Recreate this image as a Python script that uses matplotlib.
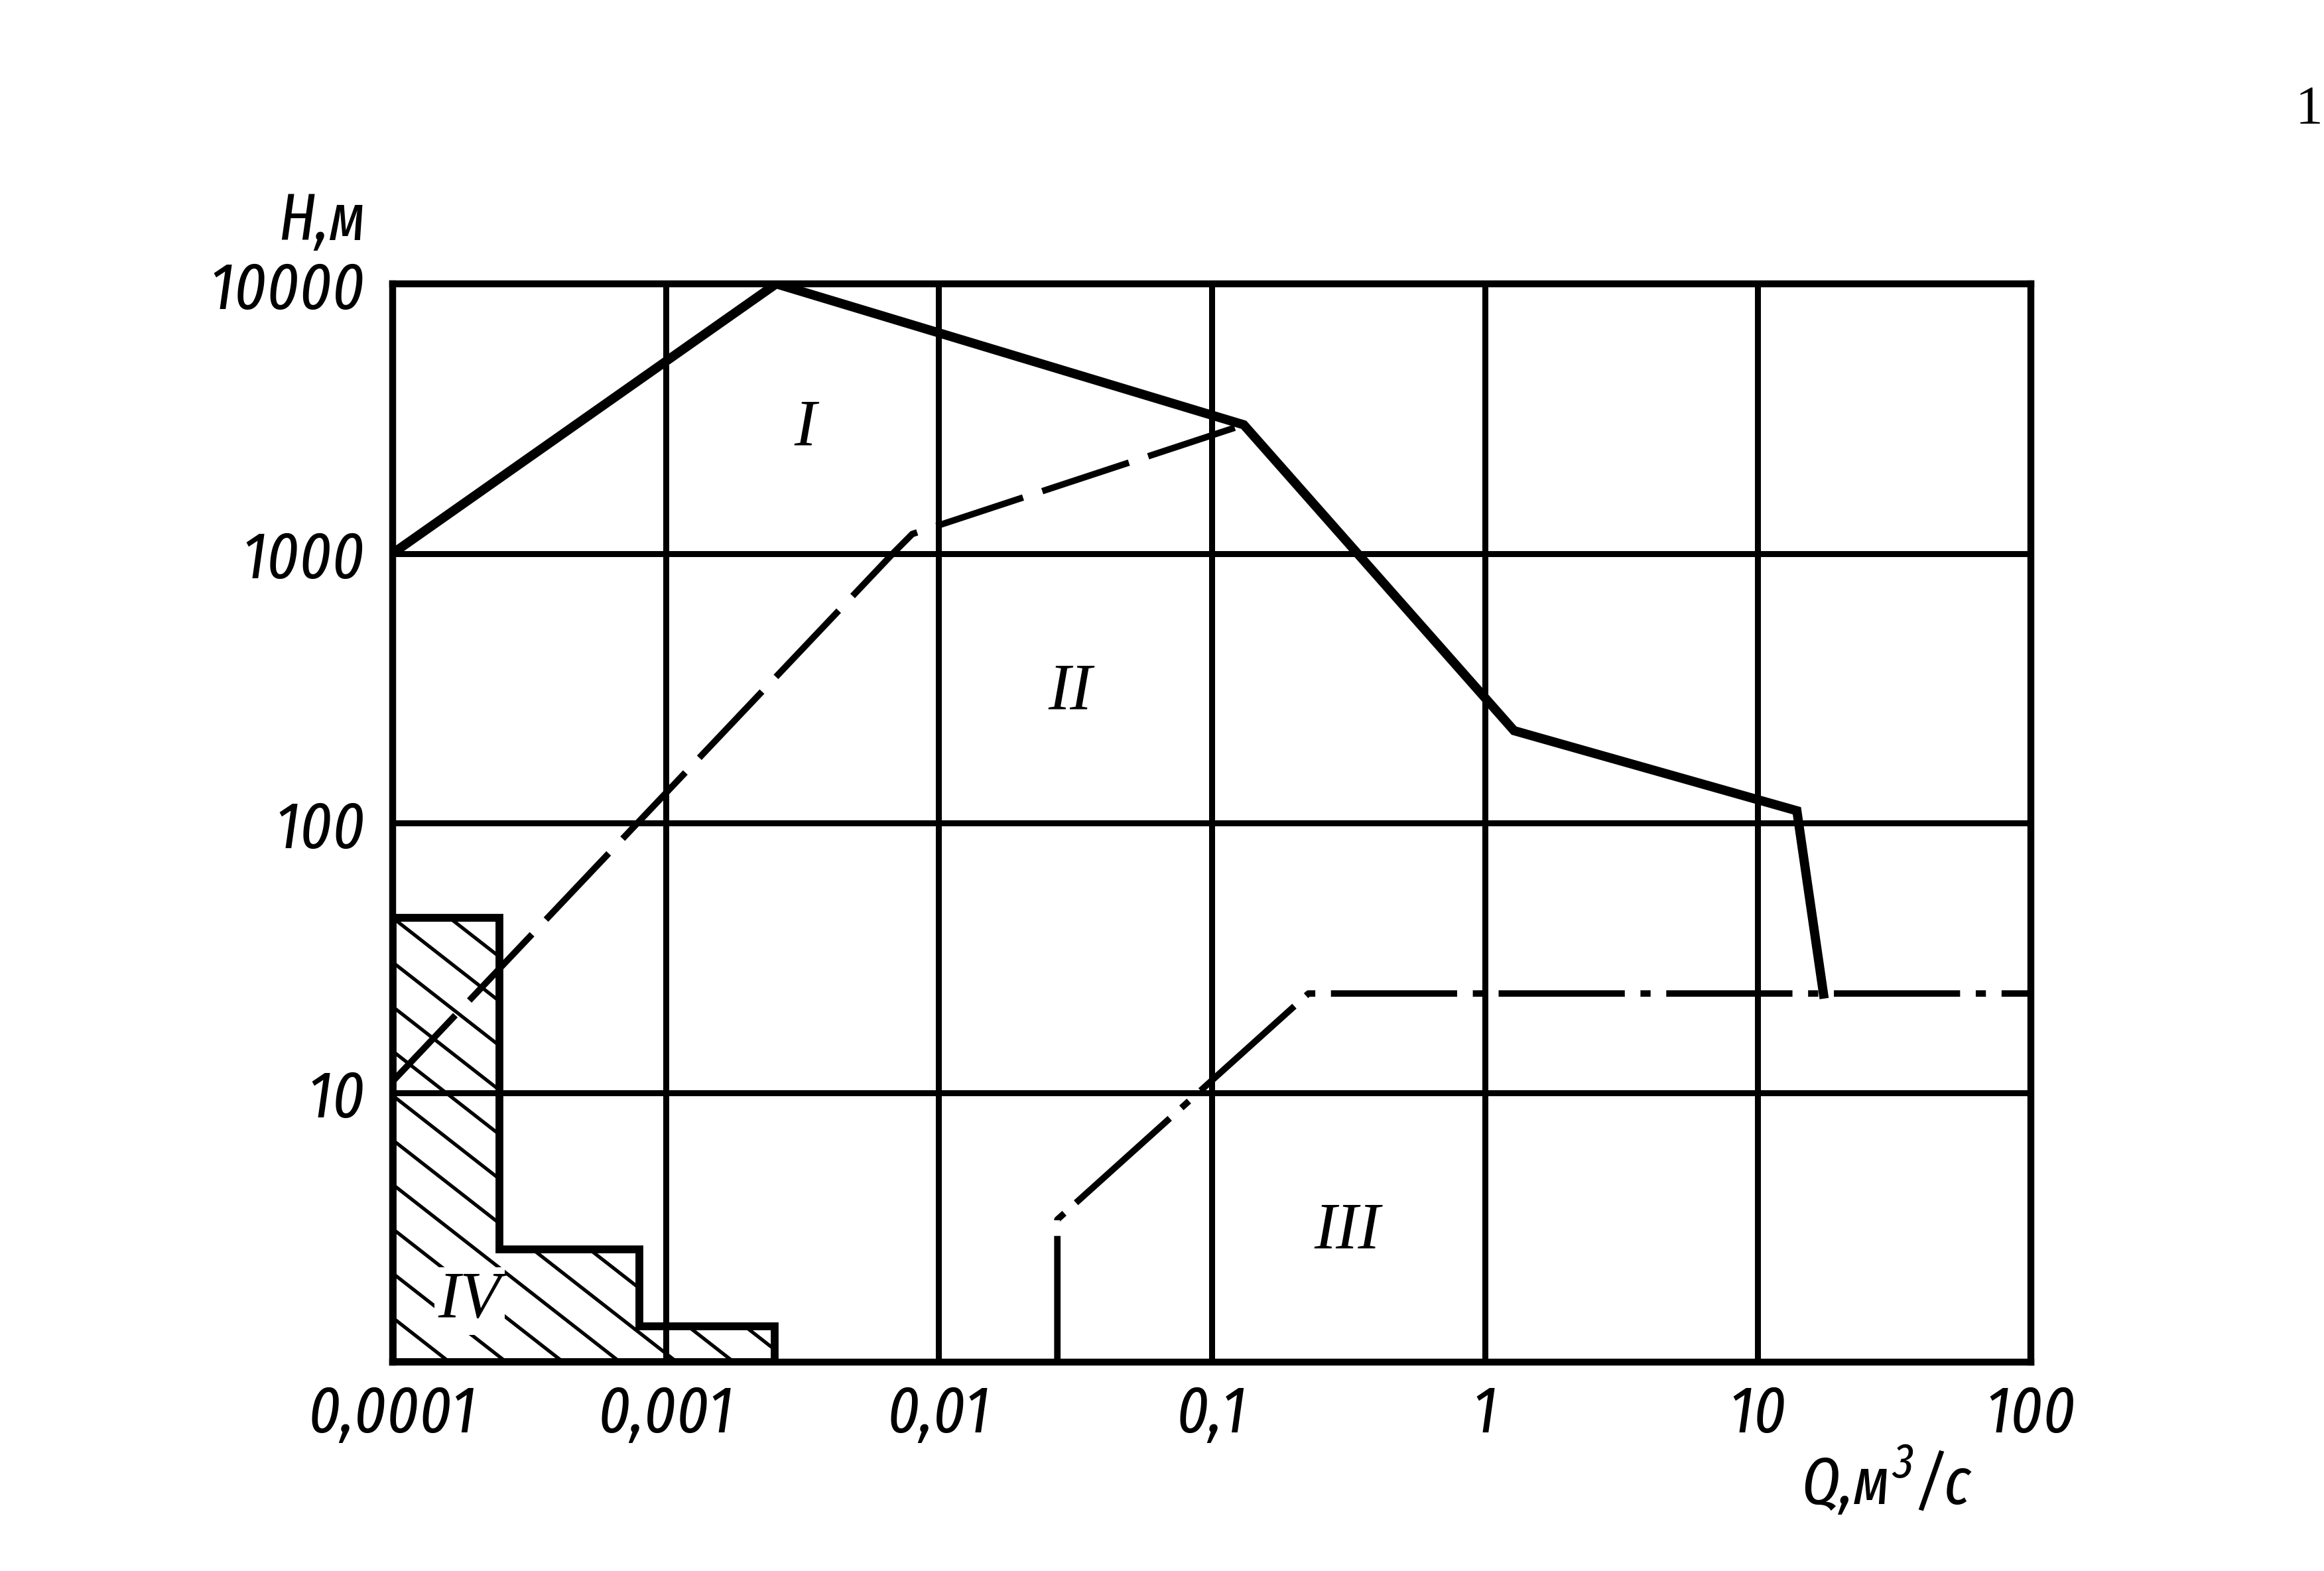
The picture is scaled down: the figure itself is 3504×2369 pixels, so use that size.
import numpy as np
import matplotlib.pyplot as plt
from matplotlib.patches import Polygon
from matplotlib.collections import LineCollection

plt.rcParams['lines.scale_dashes'] = False

# zone I border (solid)
q_zone1 = [0.0001, 0.00254, 0.131, 1.28, 13.9, 17.4]
h_zone1 = [1000, 10000, 3000, 220, 111, 23.2]

# zone II border (dashed)
q_zone2 = [0.0001, 0.0068, 0.0080, 0.131]
h_zone2 = [11, 1000, 1180, 3000]

# zone III border (dash-dot)
q_zone3 = [0.0272, 0.0272, 0.226, 100]
h_zone3 = [1, 3.38, 23.3, 23.3]

# zone IV (hatched steps)
q_zone4 = [0.0001, 0.000246, 0.0008, 0.00251]
h_zone4 = [44.6, 2.62, 1.36]

# zone labels
zone_names = ['I', 'II', 'III', 'IV']
zone_q = [0.00324, 0.0303, 0.313, 0.000191]
zone_h = [2900, 305, 3.05, 1.68]

x_ticks = [0.0001, 0.001, 0.01, 0.1, 1, 10, 100]
x_labels = ['0,0001', '0,001', '0,01', '0,1', '1', '10', '100']
y_ticks = [10, 100, 1000, 10000]
y_labels = ['10', '100', '1000', '10000']

W, H = 3505, 2369
FONT = ['Fira Sans Extra Condensed', 'DejaVu Sans']
tick_font = dict(family=FONT, style='italic', size=72)

fig = plt.figure(figsize=(W / 100, H / 100), dpi=100)
L, R, T, B = 592, 3062, 428, 2054
ax = fig.add_axes([L / W, 1 - B / H, (R - L) / W, (B - T) / H])
ax.set_xscale('log')
ax.set_yscale('log')
ax.set_xlim(0.0001, 100)
ax.set_ylim(1, 10000)

ax.set_xticks(x_ticks)
ax.set_xticklabels(x_labels, **tick_font)
ax.set_yticks(y_ticks)
ax.set_yticklabels(y_labels, **tick_font)
ax.minorticks_off()
ax.tick_params(length=0)
ax.tick_params(axis='x', pad=22)
ax.tick_params(axis='y', pad=30)
ax.grid(True, color='black', lw=6.5)
for s in ax.spines.values():
    s.set_linewidth(7.5)

# curves
ax.plot(q_zone1, h_zone1, color='black', lw=10, solid_joinstyle='miter', zorder=5)
ax.plot(q_zone2, h_zone2, color='black', lw=7, dashes=(99, 22), zorder=5)
ax.plot(q_zone3, h_zone3, color='black', lw=7, dashes=(137, 17, 11, 17), zorder=5)

# zone IV outline
verts = [(q_zone4[0], 1)]
for i, h in enumerate(h_zone4):
    verts.append((q_zone4[i], h))
    verts.append((q_zone4[i + 1], h))
verts.append((q_zone4[-1], 1))
poly = Polygon(verts, closed=True, fill=False, edgecolor='black', lw=8.5,
               joinstyle='miter', zorder=6)
ax.add_patch(poly)

# hatching inside zone IV
aw, ah = R - L, B - T
k = np.tan(np.radians(38)) * aw / ah
step = 67 / ah
segs = [[(0, c), (1, c - k)] for c in np.arange(0, 1 + k, step)]
hatch = LineCollection(segs, colors='black', linewidths=3.8, transform=ax.transAxes, zorder=4)
ax.add_collection(hatch)
hatch.set_clip_path(poly)

for name, q, h in zip(zone_names, zone_q, zone_h):
    t = ax.text(q, h, name, family='Liberation Serif', style='italic', size=72,
                ha='center', va='center', zorder=4.5)
    if name == 'IV':
        t.set_bbox(dict(facecolor='white', edgecolor='none', pad=4))

# axis titles
fig.text(486 / W, 1 - 362 / H, 'H,м', ha='center', va='baseline', **tick_font)
fig.text(2850 / W, 1 - 2268 / H, 'Q,м', ha='right', va='baseline', **tick_font)
fig.text(2854 / W, 1 - 2228 / H, '3', ha='left', va='baseline', family=FONT,
         style='italic', size=54)
fig.text(2888 / W, 1 - 2268 / H, '/с', ha='left', va='baseline', **tick_font)

# page number at the edge of the scan
fig.text(3502 / W, 1 - 185 / H, '1', ha='right', va='baseline', family='Liberation Serif', size=60)

fig.savefig('out.png', dpi=100)
